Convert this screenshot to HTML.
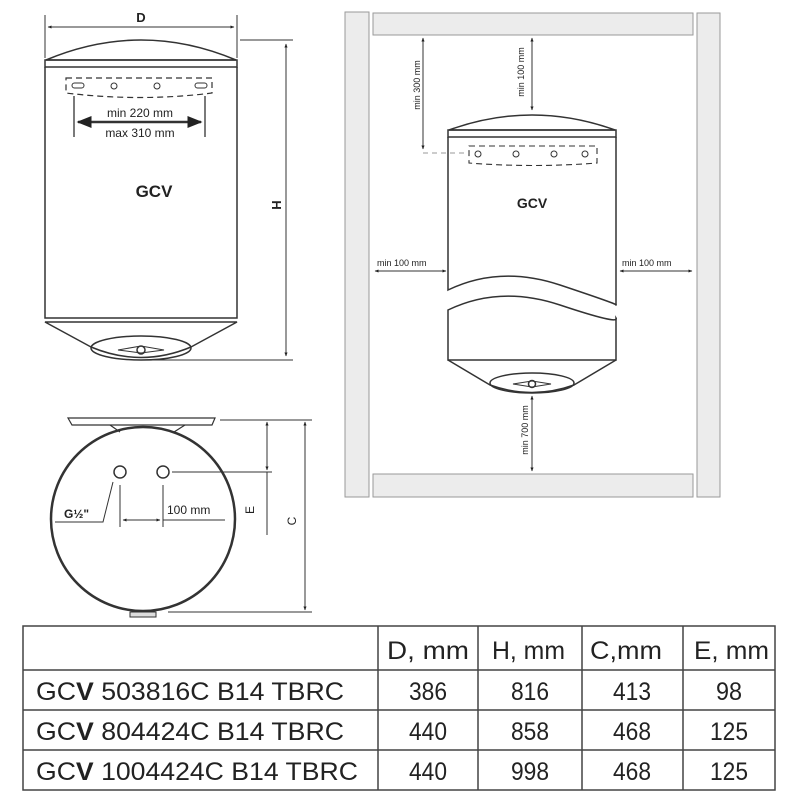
<!DOCTYPE html><html><head><style>body{margin:0;background:#fff}svg{display:block}text{font-family:"Liberation Sans",sans-serif;fill:#222}</style></head><body>
<svg width="800" height="800" viewBox="0 0 800 800" xmlns="http://www.w3.org/2000/svg">
<defs><marker id="a" viewBox="0 0 10 10" refX="9" refY="5" markerWidth="6" markerHeight="6" orient="auto-start-reverse"><path d="M0,1L10,5L0,9z" fill="#222"/></marker>
<marker id="b" viewBox="0 0 10 10" refX="9" refY="5" markerWidth="4" markerHeight="4" orient="auto-start-reverse"><path d="M0,1L10,5L0,9z" fill="#222"/></marker></defs>
<g stroke="#333" fill="none" stroke-width="1.5">
<path d="M46,60 Q141,20 236,60 Z" fill="#fff"/>
<rect x="45" y="60" width="192" height="7"/>
<path d="M45,67 V318 H237 V67"/>
<path d="M45,322 L91,347 Q141,368 191,347 L237,322 Z"/>
<ellipse cx="141" cy="348" rx="50" ry="12"/>
<path d="M118,350 L141,346 L164,350 L141,353Z" stroke-width="1"/><circle cx="141" cy="350" r="4"/>
<path d="M66,78 H212 V93 Q140,102 66,93Z" stroke-dasharray="6,4" stroke-width="1.2"/>
<rect x="72" y="83" width="12" height="5" rx="2.5" stroke-width="1"/><rect x="195" y="83" width="12" height="5" rx="2.5" stroke-width="1"/>
<circle cx="114" cy="86" r="3" stroke-width="1"/><circle cx="157" cy="86" r="3" stroke-width="1"/>
<path d="M74,96V137M205,96V137" stroke-width="1.3"/>
<line x1="78" y1="122" x2="201" y2="122" stroke-width="2.5" marker-start="url(#a)" marker-end="url(#a)"/>
<path d="M45,15V58M237,15V58M240,40H293M140,360H293" stroke-width="1"/>
<line x1="48" y1="27" x2="234" y2="27" stroke-width="1" marker-start="url(#b)" marker-end="url(#b)"/>
<line x1="286" y1="44" x2="286" y2="356" stroke-width="1" marker-start="url(#b)" marker-end="url(#b)"/>
<g fill="#ececec" stroke="#999" stroke-width="1"><rect x="345" y="12" width="24" height="485"/><rect x="697" y="13" width="23" height="484"/><rect x="373" y="13" width="320" height="22"/><rect x="373" y="474" width="320" height="23"/></g>
<path d="M449,130 Q532,100 615,130 Z" fill="#fff"/>
<rect x="448" y="130" width="168" height="7"/>
<path d="M448,137 V290 Q500,265 560,285 T616,305 V137"/>
<path d="M448,310 Q500,285 560,305 T616,318 V360 H448 Z"/>
<path d="M448,360 L490,385 Q532,400 574,385 L616,360"/>
<ellipse cx="532" cy="383" rx="42" ry="10"/>
<path d="M513,384L532,381L551,384L532,387Z" stroke-width="1"/><circle cx="532" cy="384" r="3.5"/>
<path d="M469,146H597V163Q533,168 469,163Z" stroke-dasharray="6,4" stroke-width="1.1"/>
<path d="M423,153H469" stroke="#999" stroke-dasharray="5,4" stroke-width="1.1"/>
<circle cx="478" cy="154" r="3" stroke-width="1"/><circle cx="516" cy="154" r="3" stroke-width="1"/><circle cx="554" cy="154" r="3" stroke-width="1"/><circle cx="585" cy="154" r="3" stroke-width="1"/>
<g stroke-width="1"><line x1="423" y1="38" x2="423" y2="149" marker-start="url(#b)" marker-end="url(#b)"/>
<line x1="532" y1="38" x2="532" y2="110" marker-start="url(#b)" marker-end="url(#b)"/>
<line x1="375" y1="271" x2="446" y2="271" marker-start="url(#b)" marker-end="url(#b)"/>
<line x1="620" y1="271" x2="692" y2="271" marker-start="url(#b)" marker-end="url(#b)"/>
<line x1="532" y1="396" x2="532" y2="471" marker-start="url(#b)" marker-end="url(#b)"/></g>
<path d="M68,418H215L212,425H72Z" fill="#fff" stroke-width="1.2"/>
<path d="M110,425L120,432M174,432L185,425" stroke-width="1.2"/>
<circle cx="143" cy="519" r="92" stroke-width="2.5"/>
<circle cx="120" cy="472" r="6"/><circle cx="163" cy="472" r="6"/>
<g stroke-width="1"><path d="M172,472H272M220,420H312M168,612H312M120,485V527M163,485V527M163,520H225M55,522H103L113,482M267,472V535"/>
<line x1="267" y1="422" x2="267" y2="470" marker-start="url(#b)" marker-end="url(#b)"/>
<line x1="305" y1="422" x2="305" y2="610" marker-start="url(#b)" marker-end="url(#b)"/>
<line x1="123" y1="520" x2="160" y2="520" marker-start="url(#b)" marker-end="url(#b)"/></g>
<rect x="130" y="612" width="26" height="5" fill="#ddd" stroke-width="1"/>
</g>
<text x="141" y="22" font-size="13" font-weight="bold" text-anchor="middle">D</text>
<text x="140" y="117" font-size="12" text-anchor="middle">min 220 mm</text>
<text x="140" y="137" font-size="12" text-anchor="middle">max 310 mm</text>
<text x="154" y="197" font-size="17" font-weight="bold" text-anchor="middle">GCV</text>
<text transform="translate(272,205) rotate(90)" font-size="13" font-weight="bold" text-anchor="middle">H</text>
<text x="532" y="208" font-size="14" font-weight="bold" text-anchor="middle">GCV</text>
<text x="377" y="266" font-size="9">min 100 mm</text>
<text x="622" y="266" font-size="9">min 100 mm</text>
<text transform="translate(420,85) rotate(-90)" font-size="9" text-anchor="middle">min 300 mm</text>
<text transform="translate(524,72) rotate(-90)" font-size="9" text-anchor="middle">min 100 mm</text>
<text transform="translate(528,430) rotate(-90)" font-size="9" text-anchor="middle">min 700 mm</text>
<text x="64" y="518" font-size="12" font-weight="bold">G½"</text>
<text x="167" y="514" font-size="12">100 mm</text>
<text transform="translate(254,510) rotate(-90)" font-size="12" text-anchor="middle">E</text>
<text transform="translate(296,521) rotate(-90)" font-size="12" text-anchor="middle">C</text>
<g stroke="#444" stroke-width="1.5" fill="none">
<rect x="23" y="626" width="752" height="164"/>
<path d="M23,670H775M23,710H775M23,750H775M378,626V790M478,626V790M582,626V790M683,626V790"/></g>
<g font-size="25">
<text x="387" y="659" textLength="82" lengthAdjust="spacingAndGlyphs">D, mm</text>
<text x="492" y="659" textLength="73" lengthAdjust="spacingAndGlyphs">H, mm</text>
<text x="590" y="659" textLength="72" lengthAdjust="spacingAndGlyphs">C,mm</text>
<text x="694" y="659" textLength="75" lengthAdjust="spacingAndGlyphs">E, mm</text>
</g>
<g font-size="25" text-anchor="middle">
<text x="428" y="700" textLength="38" lengthAdjust="spacingAndGlyphs">386</text><text x="530" y="700" textLength="38" lengthAdjust="spacingAndGlyphs">816</text><text x="632" y="700" textLength="38" lengthAdjust="spacingAndGlyphs">413</text><text x="729" y="700" textLength="26" lengthAdjust="spacingAndGlyphs">98</text>
<text x="428" y="740" textLength="38" lengthAdjust="spacingAndGlyphs">440</text><text x="530" y="740" textLength="38" lengthAdjust="spacingAndGlyphs">858</text><text x="632" y="740" textLength="38" lengthAdjust="spacingAndGlyphs">468</text><text x="729" y="740" textLength="38" lengthAdjust="spacingAndGlyphs">125</text>
<text x="428" y="780" textLength="38" lengthAdjust="spacingAndGlyphs">440</text><text x="530" y="780" textLength="38" lengthAdjust="spacingAndGlyphs">998</text><text x="632" y="780" textLength="38" lengthAdjust="spacingAndGlyphs">468</text><text x="729" y="780" textLength="38" lengthAdjust="spacingAndGlyphs">125</text></g>
<g font-size="25">
<text x="36" y="700" textLength="308" lengthAdjust="spacingAndGlyphs">GC<tspan font-weight="bold">V</tspan> 503816C  B14 TBRC</text>
<text x="36" y="740" textLength="308" lengthAdjust="spacingAndGlyphs">GC<tspan font-weight="bold">V</tspan> 804424C  B14 TBRC</text>
<text x="36" y="780" textLength="322" lengthAdjust="spacingAndGlyphs">GC<tspan font-weight="bold">V</tspan> 1004424C  B14 TBRC</text></g>
</svg></body></html>
